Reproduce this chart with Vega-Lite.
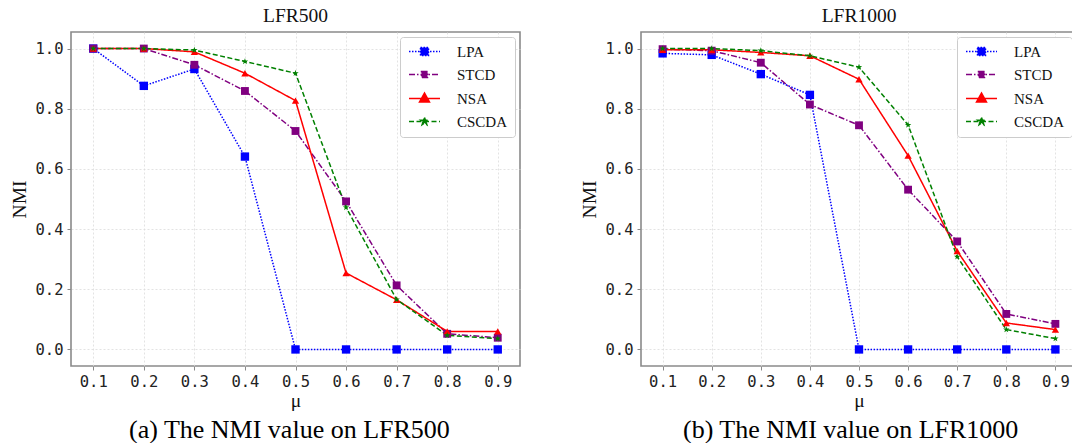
{
  "$schema": "https://vega.github.io/schema/vega-lite/v6.json",
  "background": "white",
  "padding": {"left": 8, "top": 4, "right": 0, "bottom": 0},
  "config": {
    "font": "Liberation Serif",
    "view": {"stroke": "#8a8a8a", "strokeWidth": 1.6},
    "axis": {
      "domain": false,
      "grid": true,
      "gridColor": "#dcdcdc",
      "gridDash": [2, 2],
      "gridWidth": 0.8,
      "tickColor": "#8a8a8a",
      "tickSize": 4,
      "tickWidth": 1,
      "labelFont": "DejaVu Sans Mono",
      "labelFontSize": 15.5,
      "labelColor": "#222222",
      "labelPadding": 4,
      "titleFont": "Liberation Serif",
      "titleFontSize": 19.5,
      "titleFontWeight": "normal",
      "titleColor": "#111111"
    },
    "title": {"font": "Liberation Serif", "fontSize": 19.5, "fontWeight": "normal", "color": "#111111"},
    "legend": {
      "orient": "top-right",
      "offset": 5,
      "labelFont": "Liberation Serif",
      "labelFontSize": 15,
      "labelColor": "#111111",
      "symbolSize": 100,
      "symbolOffset": 10,
      "symbolOpacity": 1,
      "rowPadding": 7,
      "labelOffset": 25,
      "padding": 7,
      "strokeColor": "#cccccc",
      "fillColor": "white",
      "cornerRadius": 3,
      "symbolStrokeWidth": 1.5
    }
  },
  "datasets": {
    "nmi": [
      {"dataset": "LFR500", "method": "LPA", "mu": 0.1, "nmi": 1.0},
      {"dataset": "LFR500", "method": "LPA", "mu": 0.2, "nmi": 0.876},
      {"dataset": "LFR500", "method": "LPA", "mu": 0.3, "nmi": 0.932},
      {"dataset": "LFR500", "method": "LPA", "mu": 0.4, "nmi": 0.641},
      {"dataset": "LFR500", "method": "LPA", "mu": 0.5, "nmi": 0.0},
      {"dataset": "LFR500", "method": "LPA", "mu": 0.6, "nmi": 0.0},
      {"dataset": "LFR500", "method": "LPA", "mu": 0.7, "nmi": 0.0},
      {"dataset": "LFR500", "method": "LPA", "mu": 0.8, "nmi": 0.0},
      {"dataset": "LFR500", "method": "LPA", "mu": 0.9, "nmi": 0.0},
      {"dataset": "LFR500", "method": "STCD", "mu": 0.1, "nmi": 1.0},
      {"dataset": "LFR500", "method": "STCD", "mu": 0.2, "nmi": 1.0},
      {"dataset": "LFR500", "method": "STCD", "mu": 0.3, "nmi": 0.946},
      {"dataset": "LFR500", "method": "STCD", "mu": 0.4, "nmi": 0.859},
      {"dataset": "LFR500", "method": "STCD", "mu": 0.5, "nmi": 0.726},
      {"dataset": "LFR500", "method": "STCD", "mu": 0.6, "nmi": 0.492},
      {"dataset": "LFR500", "method": "STCD", "mu": 0.7, "nmi": 0.213},
      {"dataset": "LFR500", "method": "STCD", "mu": 0.8, "nmi": 0.052},
      {"dataset": "LFR500", "method": "STCD", "mu": 0.9, "nmi": 0.039},
      {"dataset": "LFR500", "method": "NSA", "mu": 0.1, "nmi": 1.0},
      {"dataset": "LFR500", "method": "NSA", "mu": 0.2, "nmi": 1.0},
      {"dataset": "LFR500", "method": "NSA", "mu": 0.3, "nmi": 0.989},
      {"dataset": "LFR500", "method": "NSA", "mu": 0.4, "nmi": 0.918},
      {"dataset": "LFR500", "method": "NSA", "mu": 0.5, "nmi": 0.827},
      {"dataset": "LFR500", "method": "NSA", "mu": 0.6, "nmi": 0.254},
      {"dataset": "LFR500", "method": "NSA", "mu": 0.7, "nmi": 0.165},
      {"dataset": "LFR500", "method": "NSA", "mu": 0.8, "nmi": 0.06},
      {"dataset": "LFR500", "method": "NSA", "mu": 0.9, "nmi": 0.06},
      {"dataset": "LFR500", "method": "CSCDA", "mu": 0.1, "nmi": 1.0},
      {"dataset": "LFR500", "method": "CSCDA", "mu": 0.2, "nmi": 1.0},
      {"dataset": "LFR500", "method": "CSCDA", "mu": 0.3, "nmi": 0.995},
      {"dataset": "LFR500", "method": "CSCDA", "mu": 0.4, "nmi": 0.957},
      {"dataset": "LFR500", "method": "CSCDA", "mu": 0.5, "nmi": 0.918},
      {"dataset": "LFR500", "method": "CSCDA", "mu": 0.6, "nmi": 0.472},
      {"dataset": "LFR500", "method": "CSCDA", "mu": 0.7, "nmi": 0.166},
      {"dataset": "LFR500", "method": "CSCDA", "mu": 0.8, "nmi": 0.047},
      {"dataset": "LFR500", "method": "CSCDA", "mu": 0.9, "nmi": 0.036},
      {"dataset": "LFR1000", "method": "LPA", "mu": 0.1, "nmi": 0.984},
      {"dataset": "LFR1000", "method": "LPA", "mu": 0.2, "nmi": 0.979},
      {"dataset": "LFR1000", "method": "LPA", "mu": 0.3, "nmi": 0.915},
      {"dataset": "LFR1000", "method": "LPA", "mu": 0.4, "nmi": 0.846},
      {"dataset": "LFR1000", "method": "LPA", "mu": 0.5, "nmi": 0.0},
      {"dataset": "LFR1000", "method": "LPA", "mu": 0.6, "nmi": 0.0},
      {"dataset": "LFR1000", "method": "LPA", "mu": 0.7, "nmi": 0.0},
      {"dataset": "LFR1000", "method": "LPA", "mu": 0.8, "nmi": 0.0},
      {"dataset": "LFR1000", "method": "LPA", "mu": 0.9, "nmi": 0.0},
      {"dataset": "LFR1000", "method": "STCD", "mu": 0.1, "nmi": 0.998},
      {"dataset": "LFR1000", "method": "STCD", "mu": 0.2, "nmi": 0.993},
      {"dataset": "LFR1000", "method": "STCD", "mu": 0.3, "nmi": 0.953},
      {"dataset": "LFR1000", "method": "STCD", "mu": 0.4, "nmi": 0.814},
      {"dataset": "LFR1000", "method": "STCD", "mu": 0.5, "nmi": 0.745},
      {"dataset": "LFR1000", "method": "STCD", "mu": 0.6, "nmi": 0.531},
      {"dataset": "LFR1000", "method": "STCD", "mu": 0.7, "nmi": 0.359},
      {"dataset": "LFR1000", "method": "STCD", "mu": 0.8, "nmi": 0.118},
      {"dataset": "LFR1000", "method": "STCD", "mu": 0.9, "nmi": 0.085},
      {"dataset": "LFR1000", "method": "NSA", "mu": 0.1, "nmi": 0.996},
      {"dataset": "LFR1000", "method": "NSA", "mu": 0.2, "nmi": 0.996},
      {"dataset": "LFR1000", "method": "NSA", "mu": 0.3, "nmi": 0.987},
      {"dataset": "LFR1000", "method": "NSA", "mu": 0.4, "nmi": 0.976},
      {"dataset": "LFR1000", "method": "NSA", "mu": 0.5, "nmi": 0.898},
      {"dataset": "LFR1000", "method": "NSA", "mu": 0.6, "nmi": 0.644},
      {"dataset": "LFR1000", "method": "NSA", "mu": 0.7, "nmi": 0.327},
      {"dataset": "LFR1000", "method": "NSA", "mu": 0.8, "nmi": 0.088},
      {"dataset": "LFR1000", "method": "NSA", "mu": 0.9, "nmi": 0.066},
      {"dataset": "LFR1000", "method": "CSCDA", "mu": 0.1, "nmi": 1.0},
      {"dataset": "LFR1000", "method": "CSCDA", "mu": 0.2, "nmi": 1.0},
      {"dataset": "LFR1000", "method": "CSCDA", "mu": 0.3, "nmi": 0.993},
      {"dataset": "LFR1000", "method": "CSCDA", "mu": 0.4, "nmi": 0.976},
      {"dataset": "LFR1000", "method": "CSCDA", "mu": 0.5, "nmi": 0.938},
      {"dataset": "LFR1000", "method": "CSCDA", "mu": 0.6, "nmi": 0.746},
      {"dataset": "LFR1000", "method": "CSCDA", "mu": 0.7, "nmi": 0.308},
      {"dataset": "LFR1000", "method": "CSCDA", "mu": 0.8, "nmi": 0.066},
      {"dataset": "LFR1000", "method": "CSCDA", "mu": 0.9, "nmi": 0.036}
    ]
  },
  "data": {"name": "nmi"},
  "spacing": 57,
  "hconcat": [
    {
      "title": {"text": "(a) The NMI value on LFR500", "orient": "bottom", "fontSize": 26, "offset": 6, "frame": "group", "dx": 58, "color": "#000000"},
      "vconcat": [
        {
          "title": {"text": "LFR500", "offset": 6},
          "width": 449,
          "height": 334,
          "transform": [{"filter": "datum.dataset === 'LFR500'"}],
          "encoding": {
            "x": {"field": "mu", "type": "quantitative", "scale": {"domain": [0.056, 0.944], "nice": false, "zero": false}, "axis": {"values": [0.1, 0.2, 0.3, 0.4, 0.5, 0.6, 0.7, 0.8, 0.9], "format": ".1f", "title": "μ", "titlePadding": 2}},
            "y": {"field": "nmi", "type": "quantitative", "scale": {"domain": [-0.055, 1.055], "nice": false, "zero": false}, "axis": {"values": [0, 0.2, 0.4, 0.6, 0.8, 1.0], "format": ".1f", "title": "NMI", "titlePadding": 6}}
          },
          "layer": [
            {
              "mark": {"type": "line", "strokeWidth": 1.5},
              "encoding": {
                "color": {"field": "method", "type": "nominal", "scale": {"domain": ["LPA", "STCD", "NSA", "CSCDA"], "range": ["#0000ff", "#800080", "#ff0000", "#008000"]}, "legend": null},
                "strokeDash": {"field": "method", "type": "nominal", "scale": {"domain": ["LPA", "STCD", "NSA", "CSCDA"], "range": [[1.5, 1.5], [6, 2, 1.5, 2], [1, 0], [5, 2.5]]}, "legend": null}
              }
            },
            {
              "mark": {"type": "point", "filled": true, "opacity": 1},
              "encoding": {
                "color": {"field": "method", "type": "nominal", "scale": {"domain": ["LPA", "STCD", "NSA", "CSCDA"], "range": ["#0000ff", "#800080", "#ff0000", "#008000"]}, "legend": null},
                "shape": {"field": "method", "type": "nominal", "scale": {"domain": ["LPA", "STCD", "NSA", "CSCDA"], "range": ["square", "square", "triangle-up", "M0,-1L0.235,-0.324L0.951,-0.309L0.38,0.124L0.588,0.809L0,0.4L-0.588,0.809L-0.38,0.124L-0.951,-0.309L-0.235,-0.324Z"]}, "legend": null},
                "size": {"field": "method", "type": "nominal", "scale": {"domain": ["LPA", "STCD", "NSA", "CSCDA"], "range": [70, 45, 50, 60]}, "legend": null}
              }
            },
            {
              "transform": [{"filter": "false"}],
              "mark": {"type": "point", "filled": true, "strokeWidth": 1.5},
              "encoding": {
                "fill": {"field": "method", "type": "nominal", "scale": {"domain": ["LPA", "STCD", "NSA", "CSCDA"], "range": ["#0000ff", "#800080", "#ff0000", "#008000"]}, "legend": {"title": null}},
                "stroke": {"field": "method", "type": "nominal", "scale": {"domain": ["LPA", "STCD", "NSA", "CSCDA"], "range": ["#0000ff", "#800080", "#ff0000", "#008000"]}, "legend": {"title": null}},
                "shape": {"field": "method", "type": "nominal", "scale": {"domain": ["LPA", "STCD", "NSA", "CSCDA"], "range": ["M-3.1,0H3.1M-0.8,-0.8H0.8V0.8H-0.8Z", "M-3.1,0H3.1M-0.6,-0.6H0.6V0.6H-0.6Z", "M-3.1,0H3.1M0,-1.1L1,0.7H-1Z", "M-3.1,0H3.1M0,-0.8L0.188,-0.26L0.76,-0.248L0.304,0.1L0.472,0.648L0,0.32L-0.472,0.648L-0.304,0.1L-0.76,-0.248L-0.188,-0.26Z"]}, "legend": {"title": null}},
                "strokeDash": {"field": "method", "type": "nominal", "scale": {"domain": ["LPA", "STCD", "NSA", "CSCDA"], "range": [[1.5, 1.5], [6, 2, 1.5, 2], [1, 0], [5, 2.5]]}, "legend": {"title": null}}
              }
            }
          ],
          "resolve": {"scale": {"shape": "independent", "strokeDash": "independent", "fill": "independent", "stroke": "independent"}}
        }
      ]
    },
    {
      "title": {"text": "(b) The NMI value on LFR1000", "orient": "bottom", "fontSize": 26, "offset": 6, "frame": "group", "dx": 42, "color": "#000000"},
      "vconcat": [
        {
          "title": {"text": "LFR1000", "offset": 6},
          "width": 436,
          "height": 334,
          "transform": [{"filter": "datum.dataset === 'LFR1000'"}],
          "encoding": {
            "x": {"field": "mu", "type": "quantitative", "scale": {"domain": [0.056, 0.944], "nice": false, "zero": false}, "axis": {"values": [0.1, 0.2, 0.3, 0.4, 0.5, 0.6, 0.7, 0.8, 0.9], "format": ".1f", "title": "μ", "titlePadding": 2}},
            "y": {"field": "nmi", "type": "quantitative", "scale": {"domain": [-0.055, 1.055], "nice": false, "zero": false}, "axis": {"values": [0, 0.2, 0.4, 0.6, 0.8, 1.0], "format": ".1f", "title": "NMI", "titlePadding": 6}}
          },
          "layer": [
            {
              "mark": {"type": "line", "strokeWidth": 1.5},
              "encoding": {
                "color": {"field": "method", "type": "nominal", "scale": {"domain": ["LPA", "STCD", "NSA", "CSCDA"], "range": ["#0000ff", "#800080", "#ff0000", "#008000"]}, "legend": null},
                "strokeDash": {"field": "method", "type": "nominal", "scale": {"domain": ["LPA", "STCD", "NSA", "CSCDA"], "range": [[1.5, 1.5], [6, 2, 1.5, 2], [1, 0], [5, 2.5]]}, "legend": null}
              }
            },
            {
              "mark": {"type": "point", "filled": true, "opacity": 1},
              "encoding": {
                "color": {"field": "method", "type": "nominal", "scale": {"domain": ["LPA", "STCD", "NSA", "CSCDA"], "range": ["#0000ff", "#800080", "#ff0000", "#008000"]}, "legend": null},
                "shape": {"field": "method", "type": "nominal", "scale": {"domain": ["LPA", "STCD", "NSA", "CSCDA"], "range": ["square", "square", "triangle-up", "M0,-1L0.235,-0.324L0.951,-0.309L0.38,0.124L0.588,0.809L0,0.4L-0.588,0.809L-0.38,0.124L-0.951,-0.309L-0.235,-0.324Z"]}, "legend": null},
                "size": {"field": "method", "type": "nominal", "scale": {"domain": ["LPA", "STCD", "NSA", "CSCDA"], "range": [70, 45, 50, 60]}, "legend": null}
              }
            },
            {
              "transform": [{"filter": "false"}],
              "mark": {"type": "point", "filled": true, "strokeWidth": 1.5},
              "encoding": {
                "fill": {"field": "method", "type": "nominal", "scale": {"domain": ["LPA", "STCD", "NSA", "CSCDA"], "range": ["#0000ff", "#800080", "#ff0000", "#008000"]}, "legend": {"title": null}},
                "stroke": {"field": "method", "type": "nominal", "scale": {"domain": ["LPA", "STCD", "NSA", "CSCDA"], "range": ["#0000ff", "#800080", "#ff0000", "#008000"]}, "legend": {"title": null}},
                "shape": {"field": "method", "type": "nominal", "scale": {"domain": ["LPA", "STCD", "NSA", "CSCDA"], "range": ["M-3.1,0H3.1M-0.8,-0.8H0.8V0.8H-0.8Z", "M-3.1,0H3.1M-0.6,-0.6H0.6V0.6H-0.6Z", "M-3.1,0H3.1M0,-1.1L1,0.7H-1Z", "M-3.1,0H3.1M0,-0.8L0.188,-0.26L0.76,-0.248L0.304,0.1L0.472,0.648L0,0.32L-0.472,0.648L-0.304,0.1L-0.76,-0.248L-0.188,-0.26Z"]}, "legend": {"title": null}},
                "strokeDash": {"field": "method", "type": "nominal", "scale": {"domain": ["LPA", "STCD", "NSA", "CSCDA"], "range": [[1.5, 1.5], [6, 2, 1.5, 2], [1, 0], [5, 2.5]]}, "legend": {"title": null}}
              }
            }
          ],
          "resolve": {"scale": {"shape": "independent", "strokeDash": "independent", "fill": "independent", "stroke": "independent"}}
        }
      ]
    }
  ]
}
